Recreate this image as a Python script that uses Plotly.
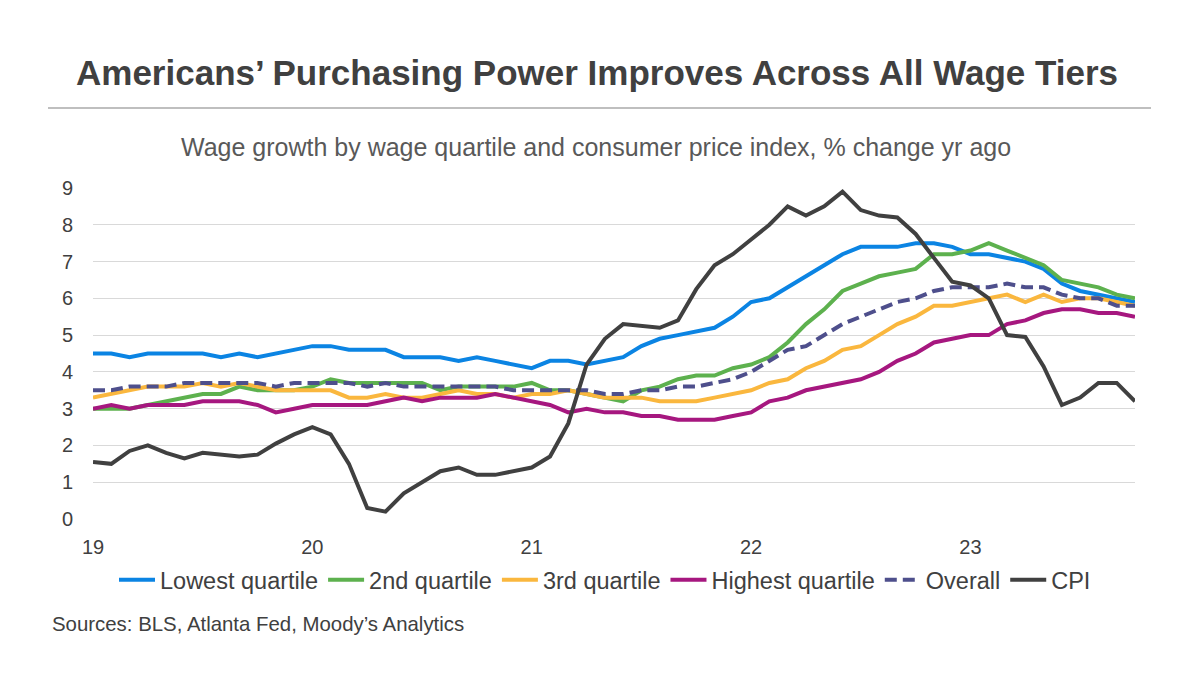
import plotly.graph_objects as go

# ---------------- data ----------------
years = ["2019", "2020", "2021", "2022", "2023"]
months = [f"{y}-{m:02d}" for y in years for m in range(1, 13)][:58]

tick_vals = ["2019-01", "2020-01", "2021-01", "2022-01", "2023-01"]
tick_text = ["19", "20", "21", "22", "23"]

lowest = [4.5, 4.5, 4.4, 4.5, 4.5, 4.5, 4.5, 4.4, 4.5, 4.4, 4.5, 4.6,
          4.7, 4.7, 4.6, 4.6, 4.6, 4.4, 4.4, 4.4, 4.3, 4.4, 4.3, 4.2,
          4.1, 4.3, 4.3, 4.2, 4.3, 4.4, 4.7, 4.9, 5.0, 5.1, 5.2, 5.5,
          5.9, 6.0, 6.3, 6.6, 6.9, 7.2, 7.4, 7.4, 7.4, 7.5, 7.5, 7.4,
          7.2, 7.2, 7.1, 7.0, 6.8, 6.4, 6.2, 6.1, 6.0, 5.9]

second = [3.0, 3.0, 3.0, 3.1, 3.2, 3.3, 3.4, 3.4, 3.6, 3.5, 3.5, 3.5,
          3.6, 3.8, 3.7, 3.7, 3.7, 3.7, 3.7, 3.5, 3.6, 3.6, 3.6, 3.6,
          3.7, 3.5, 3.5, 3.4, 3.3, 3.2, 3.5, 3.6, 3.8, 3.9, 3.9, 4.1,
          4.2, 4.4, 4.8, 5.3, 5.7, 6.2, 6.4, 6.6, 6.7, 6.8, 7.2, 7.2,
          7.3, 7.5, 7.3, 7.1, 6.9, 6.5, 6.4, 6.3, 6.1, 6.0]

third = [3.3, 3.4, 3.5, 3.6, 3.6, 3.6, 3.7, 3.6, 3.7, 3.6, 3.5, 3.5,
         3.5, 3.5, 3.3, 3.3, 3.4, 3.3, 3.3, 3.4, 3.5, 3.4, 3.4, 3.3,
         3.4, 3.4, 3.5, 3.4, 3.3, 3.3, 3.3, 3.2, 3.2, 3.2, 3.3, 3.4,
         3.5, 3.7, 3.8, 4.1, 4.3, 4.6, 4.7, 5.0, 5.3, 5.5, 5.8, 5.8,
         5.9, 6.0, 6.1, 5.9, 6.1, 5.9, 6.0, 6.0, 5.9, 5.8]

highest = [3.0, 3.1, 3.0, 3.1, 3.1, 3.1, 3.2, 3.2, 3.2, 3.1, 2.9, 3.0,
           3.1, 3.1, 3.1, 3.1, 3.2, 3.3, 3.2, 3.3, 3.3, 3.3, 3.4, 3.3,
           3.2, 3.1, 2.9, 3.0, 2.9, 2.9, 2.8, 2.8, 2.7, 2.7, 2.7, 2.8,
           2.9, 3.2, 3.3, 3.5, 3.6, 3.7, 3.8, 4.0, 4.3, 4.5, 4.8, 4.9,
           5.0, 5.0, 5.3, 5.4, 5.6, 5.7, 5.7, 5.6, 5.6, 5.5]

overall = [3.5, 3.5, 3.6, 3.6, 3.6, 3.7, 3.7, 3.7, 3.7, 3.7, 3.6, 3.7,
           3.7, 3.7, 3.7, 3.6, 3.7, 3.6, 3.6, 3.6, 3.6, 3.6, 3.6, 3.5,
           3.5, 3.5, 3.5, 3.5, 3.4, 3.4, 3.5, 3.5, 3.6, 3.6, 3.7, 3.8,
           4.0, 4.3, 4.6, 4.7, 5.0, 5.3, 5.5, 5.7, 5.9, 6.0, 6.2, 6.3,
           6.3, 6.3, 6.4, 6.3, 6.3, 6.1, 6.0, 6.0, 5.8, 5.8]

cpi = [1.55, 1.5, 1.85, 2.0, 1.8, 1.65, 1.8, 1.75, 1.7, 1.75, 2.05, 2.3,
       2.5, 2.3, 1.5, 0.3, 0.2, 0.7, 1.0, 1.3, 1.4, 1.2, 1.2, 1.3,
       1.4, 1.7, 2.6, 4.2, 4.9, 5.3, 5.25, 5.2, 5.4, 6.25, 6.9, 7.2,
       7.6, 8.0, 8.5, 8.25, 8.5, 8.9, 8.4, 8.25, 8.2, 7.75, 7.1, 6.45,
       6.35, 6.0, 5.0, 4.95, 4.15, 3.1, 3.3, 3.7, 3.7, 3.2]

series = [
    ("Lowest quartile", lowest, "#0B84E3", "solid"),
    ("2nd quartile", second, "#5DB14E", "solid"),
    ("3rd quartile", third, "#FAB73E", "solid"),
    ("Highest quartile", highest, "#A6177F", "solid"),
    ("Overall", overall, "#4E4F8C", "12px,6px"),
    ("CPI", cpi, "#404040", "solid"),
]

# ---------------- layout geometry ----------------
W, H = 1200, 675
L, R, T, B = 93, 65, 188, 156
pw, ph = W - L - R, H - T - B


def px(x):
    return (x - L) / pw


def py(y):
    return (H - B - y) / ph


FONT = "Liberation Sans, Arial, sans-serif"

fig = go.Figure()
for name, vals, color, dash in series:
    fig.add_trace(go.Scatter(
        x=months, y=vals, name=name, mode="lines",
        line=dict(color=color, width=4, dash=dash),
    ))

fig.update_layout(
    width=W, height=H,
    margin=dict(l=L, r=R, t=T, b=B, autoexpand=False),
    paper_bgcolor="white", plot_bgcolor="white",
    font=dict(family=FONT, color="#595959"),
    showlegend=True,
    legend=dict(
        orientation="h", x=px(605), xanchor="center",
        y=py(558), yanchor="top",
        font=dict(size=23.5, color="#404040", family=FONT),
        itemwidth=36, tracegroupgap=0,
    ),
    xaxis=dict(
        type="category", categoryorder="array", categoryarray=months,
        range=[0, len(months) - 1],
        tickmode="array", tickvals=tick_vals, ticktext=tick_text,
        showgrid=False, zeroline=False, showline=False,
        ticks="", tickfont=dict(size=20, color="#404040"),
        ticklabelstandoff=14,
    ),
    yaxis=dict(
        range=[0, 9], dtick=1, tick0=0,
        showgrid=True, gridcolor="#D9D9D9", gridwidth=1,
        zeroline=False, showline=False, ticks="",
        tickfont=dict(size=20, color="#404040"),
        ticklabelstandoff=19,
    ),
)

# title
fig.add_annotation(
    text="<b>Americans’ Purchasing Power Improves Across All Wage Tiers</b>",
    xref="paper", yref="paper", x=px(597), y=py(73),
    xanchor="center", yanchor="middle", showarrow=False,
    font=dict(size=35, color="#404040", family=FONT),
)
# separator line
fig.add_shape(
    type="line", xref="paper", yref="paper",
    x0=px(48), x1=px(1151), y0=py(108), y1=py(108),
    line=dict(color="#BFBFBF", width=2),
)
# subtitle
fig.add_annotation(
    text="Wage growth by wage quartile and consumer price index, % change yr ago",
    xref="paper", yref="paper", x=px(596), y=py(147),
    xanchor="center", yanchor="middle", showarrow=False,
    font=dict(size=25, color="#595959", family=FONT),
)
# sources
fig.add_annotation(
    text="Sources: BLS, Atlanta Fed, Moody’s Analytics",
    xref="paper", yref="paper", x=px(50), y=py(624),
    xanchor="left", yanchor="middle", showarrow=False,
    font=dict(size=20.4, color="#404040", family=FONT),
)

fig.write_html("out.html")
